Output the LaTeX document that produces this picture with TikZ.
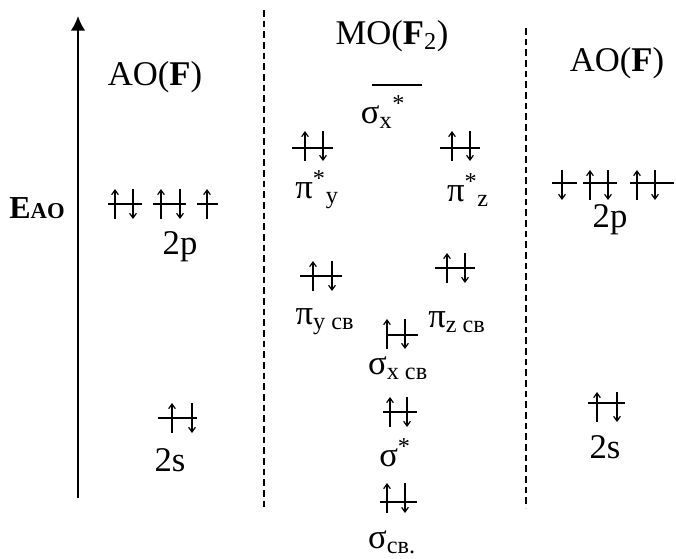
\documentclass[tikz,border=0pt]{standalone}
\usepackage{fontspec}
\setmainfont{Liberation Serif}
\usetikzlibrary{arrows.meta}
% one energy level and its electrons
\newcommand{\level}[3]{\draw[lvl] (#1,#3) -- (#2,#3);}
\newcommand{\spinup}[2]{\draw[spin] (#1,#2+15) -- (#1,#2-15);}
\newcommand{\spindn}[2]{\draw[spin] (#1,#2-15) -- (#1,#2+15);}

\begin{document}
\begin{tikzpicture}[x=0.75pt,y=-0.75pt,
  lvl/.style={line width=0.9pt},
  spin/.style={line width=0.9pt,-{Straight Barb[length=3.5pt,width=5pt]}},
  sep/.style={line width=0.9pt,dash pattern=on 5pt off 3pt},
  every node/.style={inner sep=0pt,font=\fontsize{26}{30}\selectfont}]
\useasboundingbox (0,0) rectangle (676,558);

% energy axis
\coordinate (ebot) at (78,498);
\coordinate (etop) at (78,16);
\draw[line width=1.5pt,-{Latex[length=11pt,width=11pt]}] (ebot) -- (etop);
\node[font=\fontsize{24}{28}\selectfont\bfseries] (eao) at (37,208) {E{\fontsize{17}{20}\selectfont AO}};

% column separators
\coordinate (s1t) at (264,10);
\coordinate (s1b) at (264,508);
\coordinate (s2t) at (526,28);
\coordinate (s2b) at (526,508);
\draw[sep] (s1t) -- (s1b);
\draw[sep] (s2t) -- (s2b);

% headings
\node (aoL) at (155,77) {AO(\textbf{F})};
\node (mo) at (392,36) {MO(\textbf{F}\textsubscript{2})};
\node (aoR) at (617,63) {AO(\textbf{F})};

% left atom
\level{108}{142}{204} \spinup{115}{204} \spindn{133}{204}
\level{153}{186}{204} \spinup{161}{204} \spindn{180}{204}
\level{197}{218}{204} \spinup{207}{204}
\node (pL) at (180,247) {2p};
\level{158}{197}{418} \spinup{172}{418} \spindn{192}{418}
\node (sL) at (170,460) {2s};

% molecule
\level{372}{422}{85}
\node (sxa) at (383,112) {σ\textsubscript{x}\textsuperscript{*}};
\level{292}{333}{148} \spinup{305}{146} \spindn{323}{146}
\node (pya) at (317,190) {π\textsuperscript{*}\textsubscript{y}};
\level{440}{480}{148} \spinup{452}{146} \spindn{470}{146}
\node (pza) at (468,190) {π\textsuperscript{*}\textsubscript{z}};
\level{300}{342}{276} \spinup{313}{276} \spindn{332}{276}
\node (pyb) at (325,322) {π\textsubscript{y св}};
\level{435}{475}{268} \spinup{447}{268} \spindn{465}{268}
\node (pzb) at (457,322) {π\textsubscript{z св}};
\level{386}{418}{335} \spinup{387}{334} \spindn{405}{334}
\node (sxb) at (398,368) {σ\textsubscript{x св}};
\level{383}{417}{412} \spinup{390}{412} \spindn{407}{412}
\node (ssa) at (395,453) {σ\textsuperscript{*}};
\level{380}{417}{502} \spinup{387}{498} \spindn{405}{498}
\node (ssb) at (392,542) {σ\textsubscript{св.}};

% right atom
\level{552}{577}{183} \spindn{562}{185}
\level{583}{617}{183} \spinup{590}{185} \spindn{608}{185}
\level{630}{674}{183} \spinup{637}{185} \spindn{655}{185}
\node (pR) at (610,220) {2p};
\level{588}{625}{403} \spinup{597}{407} \spindn{617}{407}
\node (sR) at (605,447) {2s};
\end{tikzpicture}
\end{document}
